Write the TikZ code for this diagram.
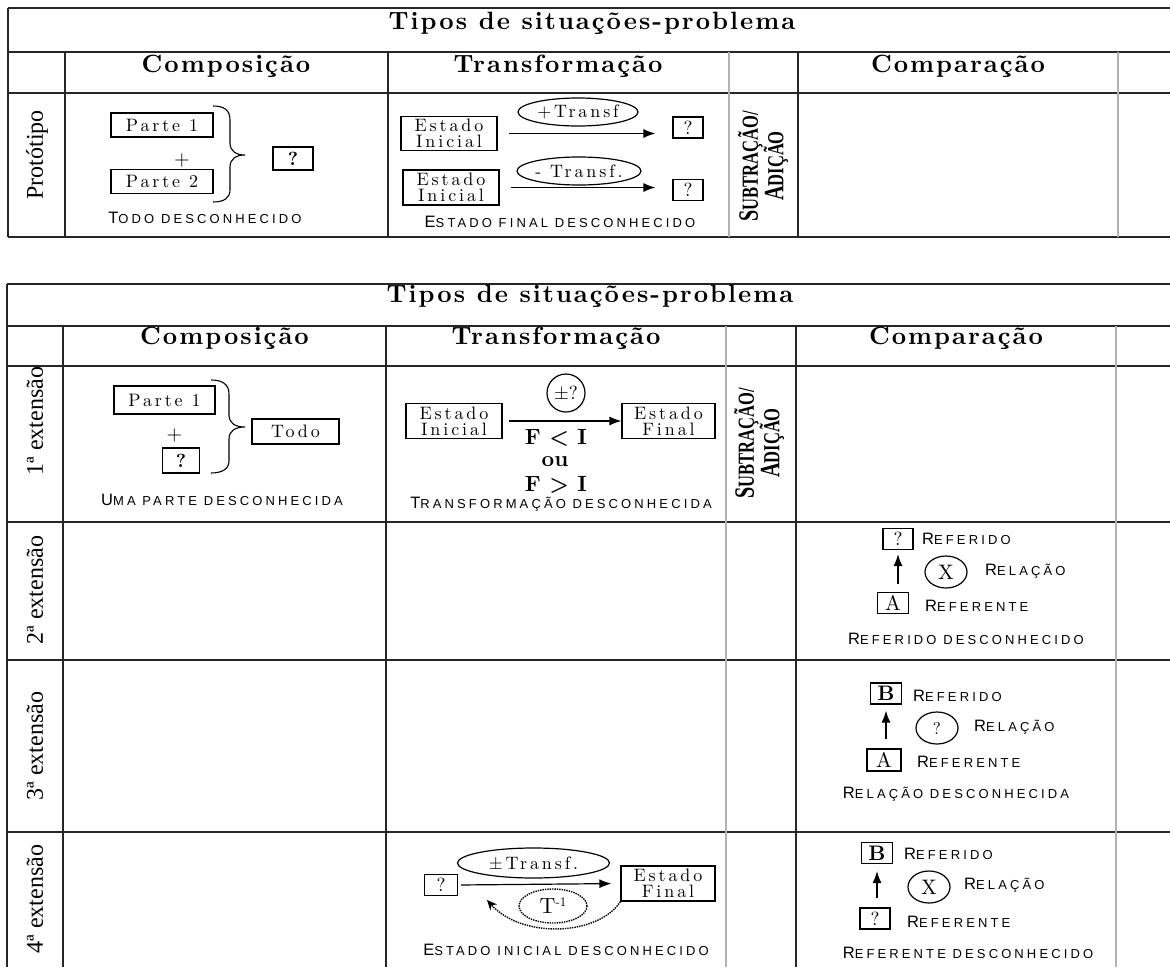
\documentclass[tikz,border=0pt]{standalone}
\usepackage{fontspec}
\usetikzlibrary{arrows.meta,shapes.geometric,calc}
\newfontfamily\hdrf[LetterSpace=8]{lmroman10-bold.otf}
\newfontfamily\boxf[LetterSpace=16]{lmroman10-regular.otf}
\newfontfamily\lmr{lmroman10-regular.otf}
\newfontfamily\lmbf{lmroman10-bold.otf}
\newfontfamily\scf[LetterSpace=24]{Liberation Sans}
\newfontfamily\tms{Liberation Serif}
\newcommand\SCt[2]{{\scf\fontsize{16.5}{18}\selectfont #1\fontsize{13}{18}\selectfont #2}}
\newcommand\SUBAD{\scalebox{0.72}[1]{\fontsize{28}{18}\selectfont S\fontsize{23}{18}\selectfont UBTRAÇÃO/}\\\scalebox{0.72}[1]{\fontsize{28}{18}\selectfont A\fontsize{23}{18}\selectfont DIÇÃO}}
\tikzset{
  rule/.style={line width=1.7pt, draw=black!85},
  grule/.style={line width=1.7pt, draw=black!30},
  tbox/.style={draw, line width=1.2pt, inner sep=0pt, align=center, font=\boxf\fontsize{18}{16}\selectfont},
  qbox/.style={draw, line width=1.2pt, inner sep=0pt, font=\lmr\fontsize{19}{19}\selectfont},
  bqbox/.style={draw, line width=1.2pt, inner sep=0pt, font=\lmbf\fontsize{19}{19}\selectfont},
  arr/.style={line width=1.2pt, -{Latex[length=12pt,width=9pt]}},
  ovtxt/.style={inner sep=0pt, font=\boxf\fontsize{18}{18}\selectfont},
  ovl/.style={line width=1.2pt},
  hdr/.style={font=\hdrf\fontsize{25}{26}\selectfont, anchor=base, inner sep=0pt},
  rowlbl/.style={rotate=90, font=\tms\fontsize{24}{24}\selectfont, inner sep=0pt},
  sclbl/.style={inner sep=0pt},
  scw/.style={inner sep=0pt, anchor=west},
  sub/.style={rotate=90, align=center, font=\tms\bfseries, inner sep=0pt},
  big/.style={inner sep=0pt, font=\lmbf\fontsize{22}{22}\selectfont},
}
\begin{document}
\begin{tikzpicture}[x=1pt,y=-1pt]
\useasboundingbox (0,0) rectangle (1170,967);
\fill[white] (0,0) rectangle (1170,967);
% ---------------- top table ----------------
\foreach \y in {8,52,93,237} \draw[rule] (8,\y) -- (1170,\y);
\draw[rule] (8,8) -- (8,237);
\foreach \x in {65,388,798} \draw[rule] (\x,52) -- (\x,237);
\foreach \x in {729,1118} \draw[grule] (\x,52) -- (\x,237);
\node[hdr] (tt1) at (592,29) {Tipos de situações-problema};
\node[hdr] (hc1) at (226,72) {Composição};
\node[hdr] (ht1) at (558,72) {Transformação};
\node[hdr] (hm1) at (958,72) {Comparação};
\node[rowlbl] (rp) at (37,155) {Protótipo};
% composicao
\node[tbox, minimum width=102, minimum height=24] (p1) at (162,125) {Parte 1};
\node[inner sep=0pt, font=\lmr\fontsize{20}{20}\selectfont] (pl1) at (182,160) {+};
\node[tbox, minimum width=102, minimum height=24] (p2) at (162,181.5) {Parte 2};
\draw[line width=1.1pt] (213,106) .. controls (224,106) and (230,110) .. (230,120) -- (230,143) .. controls (230,151) and (236,155) .. (245,155) .. controls (236,155) and (230,159) .. (230,167) -- (230,190) .. controls (230,198) and (224,202) .. (213,202);
\node[bqbox, minimum width=40, minimum height=23] (q0) at (293,158.5) {?};
\node[sclbl] (l1) at (205,218) {\SCt{T}{ODO DESCONHECIDO}};
% transformacao
\node[tbox, minimum width=96, minimum height=34] (ei1) at (449,133.5) {Estado\\Inicial};
\node[qbox, minimum width=30, minimum height=21] (q1) at (688,127.5) {?};
\draw[arr, shorten <=11pt, shorten >=17pt] (ei1.east) -- (ei1.east -| q1.west);
\node[ovtxt] (e1) at (578,112) {+Transf};
\draw[ovl] (e1) ellipse [x radius=60, y radius=14];
\node[tbox, minimum width=96, minimum height=35] (ei2) at (451,187.5) {Estado\\Inicial};
\node[qbox, minimum width=30, minimum height=21] (q2) at (688,190) {?};
\draw[arr, shorten <=11pt, shorten >=17pt] (ei2.east) -- (ei2.east -| q2.west);
\node[ovtxt] (e2) at (579,171) {- Transf.};
\draw[ovl] (e2) ellipse [x radius=62, y radius=14];
\node[sclbl] (l2) at (560,222) {\SCt{E}{STADO FINAL DESCONHECIDO}};
\node[sub] (s1) at (763,166) {\SUBAD};
% ---------------- bottom table ----------------
\foreach \y in {284,326,366,522,660,832} \draw[rule] (7,\y) -- (1170,\y);
\draw[rule] (7,284) -- (7,967);
\foreach \x in {63,386,796} \draw[rule] (\x,326) -- (\x,967);
\foreach \x in {726,1116} \draw[grule] (\x,326) -- (\x,967);
\node[hdr] (tt2) at (590,302) {Tipos de situações-problema};
\node[hdr] (hc2) at (224.5,344) {Composição};
\node[hdr] (ht2) at (556,344) {Transformação};
\node[hdr] (hm2) at (956,344) {Comparação};
\node[rowlbl] (r1) at (35,421) {1ª extensão};
\node[rowlbl] (r2) at (35,590) {2ª extensão};
\node[rowlbl] (r3) at (35,746) {3ª extensão};
\node[rowlbl] (r4) at (35,899) {4ª extensão};
% row 1 composicao
\node[tbox, minimum width=101, minimum height=28] (p3) at (164.5,400) {Parte 1};
\node[inner sep=0pt, font=\lmr\fontsize{20}{20}\selectfont] (pl3) at (174.5,435) {+};
\node[bqbox, minimum width=37, minimum height=25] (q3) at (181,460.5) {?};
\node[tbox, minimum width=87, minimum height=25] (todo) at (295.5,431.5) {Todo};
\draw[line width=1.1pt] (211,380) .. controls (222,380) and (229,384) .. (229,394) -- (229,415) .. controls (229,423) and (235,427) .. (245,427) .. controls (235,427) and (229,431) .. (229,439) -- (229,461) .. controls (229,469) and (222,473) .. (211,473);
\node[sclbl] (l3) at (222,500) {\SCt{U}{MA PARTE DESCONHECIDA}};
% row 1 transformacao
\node[tbox, minimum width=96, minimum height=35] (ei3) at (454,421) {Estado\\Inicial};
\node[tbox, minimum width=93, minimum height=35] (ef3) at (668.5,421) {Estado\\Final};
\draw[arr, shorten <=6pt] (ei3.east) -- (ef3.west);
\node[ovtxt, font=\lmr\fontsize{19}{19}\selectfont] (c3) at (566,393) {±?};
\draw[ovl] (c3) circle [radius=19];
\node[big] (f1) at (556,438) {F < I};
\node[big] (ou) at (555,462) {ou};
\node[big] (f2) at (556,485) {F > I};
\node[sclbl] (l4) at (561,504) {\SCt{T}{RANSFORMAÇÃO DESCONHECIDA}};
\node[sub] (s2) at (759,443) {\SUBAD};
% row 2 comparacao
\node[qbox, minimum width=30, minimum height=21] (q4) at (898,539) {?};
\node[scw] (t4a) at (922,539) {\SCt{R}{EFERIDO}};
\node[ovtxt, font=\lmr\fontsize{21}{21}\selectfont] (x4) at (946,572) {X};
\draw[ovl] (x4) ellipse [x radius=21, y radius=16];
\node[scw] (t4b) at (985,571) {\SCt{R}{ELAÇÃO}};
\node[qbox, minimum width=31, minimum height=21, font=\lmr\fontsize{21}{21}\selectfont] (a4) at (893,603) {A};
\node[scw] (t4c) at (925,606) {\SCt{R}{EFERENTE}};
\node[sclbl] (l5) at (966,639) {\SCt{R}{EFERIDO DESCONHECIDO}};
\draw[arr, shorten <=8pt, shorten >=4pt] (q4.south |- a4.north) -- (q4.south);
% row 3 comparacao
\node[bqbox, minimum width=31, minimum height=21, font=\lmbf\fontsize{21}{21}\selectfont] (b5) at (886,693.5) {B};
\node[scw] (t5a) at (913,696) {\SCt{R}{EFERIDO}};
\node[ovtxt, font=\lmr\fontsize{17}{17}\selectfont] (c5) at (937,728) {?};
\draw[ovl] (c5) ellipse [x radius=21, y radius=16];
\node[scw] (t5b) at (974,727) {\SCt{R}{ELAÇÃO}};
\node[qbox, minimum width=34, minimum height=22, font=\lmr\fontsize{21}{21}\selectfont] (a5) at (884,760) {A};
\node[scw] (t5c) at (917,762) {\SCt{R}{EFERENTE}};
\node[sclbl] (l6) at (956,794) {\SCt{R}{ELAÇÃO DESCONHECIDA}};
\draw[arr, shorten <=9pt, shorten >=6pt] (b5.south |- a5.north) -- (b5.south);
% row 4 comparacao
\node[bqbox, minimum width=31, minimum height=21, font=\lmbf\fontsize{21}{21}\selectfont] (b6) at (877,853) {B};
\node[scw] (t6a) at (904,854) {\SCt{R}{EFERIDO}};
\node[ovtxt, font=\lmr\fontsize{21}{21}\selectfont] (x6) at (929,887) {X};
\draw[ovl] (x6) ellipse [x radius=21, y radius=16];
\node[scw] (t6b) at (964,885) {\SCt{R}{ELAÇÃO}};
\node[qbox, minimum width=30, minimum height=21] (q6) at (875,918.5) {?};
\node[scw] (t6c) at (907,922) {\SCt{R}{EFERENTE}};
\node[sclbl] (l7) at (968,953) {\SCt{R}{EFERENTE DESCONHECIDO}};
\draw[arr, shorten <=9pt, shorten >=7pt] (b6.south |- q6.north) -- (b6.south);
% row 4 transformacao
\node[qbox, minimum width=33, minimum height=21] (q7) at (441,885) {?};
\node[tbox, minimum width=94, minimum height=35] (ef7) at (668,883.5) {Estado\\Final};
\draw[arr, shorten <=3pt, shorten >=9pt] (q7.east) -- (ef7.west);
\node[ovtxt] (e7) at (533.5,863) {±Transf.};
\draw[ovl] (e7) ellipse [x radius=76, y radius=15];
\node[ovtxt, font=\lmr\fontsize{22}{22}\selectfont] (t7) at (553,906) {T\raisebox{7pt}{\fontsize{13}{13}\selectfont -1}};
\draw[densely dotted, line width=1.4pt] (t7) ellipse [x radius=34, y radius=17];
\coordinate (tend) at (487,900);
\draw[densely dotted, line width=1.4pt, -{Stealth[length=10pt,width=9pt]}] (ef7.south west) .. controls (598,936) and (522,939) .. (tend);
\node[sclbl] (l8) at (566,950) {\SCt{E}{STADO INICIAL DESCONHECIDO}};
\end{tikzpicture}
\end{document}
